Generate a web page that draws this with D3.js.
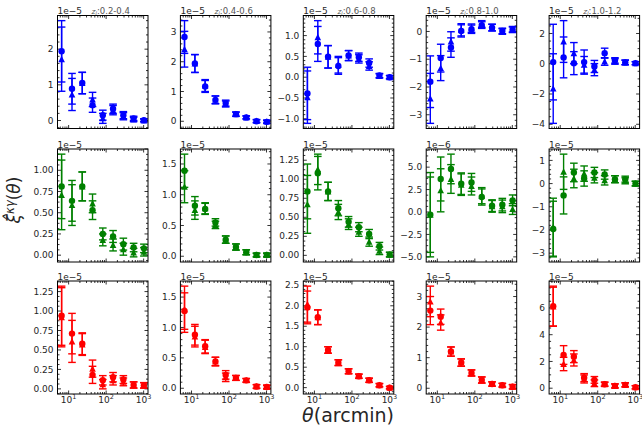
<!DOCTYPE html>
<html><head><meta charset="utf-8">
<script src="https://cdn.jsdelivr.net/npm/d3@7"></script>
<style>body{margin:0;background:#fff}svg{display:block;font-family:"DejaVu Sans",sans-serif}</style>
</head><body><svg id="c" width="642" height="431"></svg>
<script>
const theta = [6.5, 12.3, 23.1, 43.4, 81.5, 153, 288, 541, 1016];
const zBins = ["0.2-0.4", "0.4-0.6", "0.6-0.8", "0.8-1.0", "1.0-1.2"];
const rowColors = ["#0000ff", "#008000", "#ff0000"];
const exponents = [[-5,-5,-5,-5,-5],[-5,-5,-5,-6,-5],[-5,-5,-5,-5,-5]];

// Blue row (circle / triangle, values in units of 10^exponent)
const blueCirc = [[1.94,0.89,1.05,0.43,0.15,0.33,0.15,0.06,0.01],[2.83,1.94,1.17,0.72,0.61,0.24,0.13,0.00,-0.02],[-0.39,0.80,0.49,0.27,0.52,0.48,0.34,0.04,0.00],[-1.81,-0.96,-0.58,0.02,0.08,0.23,0.14,0.02,0.06],[0.11,0.42,0.04,0.11,-0.18,0.70,0.22,0.09,0.04]];
const blueCircErr = [[0.86,0.43,0.30,0.20,0.14,0.13,0.10,0.06,0.04],[0.55,0.30,0.20,0.13,0.10,0.07,0.05,0.05,0.05],[0.63,0.42,0.27,0.20,0.12,0.10,0.10,0.05,0.04],[0.93,0.50,0.35,0.22,0.15,0.12,0.12,0.10,0.10],[2.50,1.35,0.76,0.80,0.40,0.33,0.18,0.15,0.10]];
const blueTri = [[1.72,0.73,1.05,0.59,0.06,0.29,0.12,0.03,0.00],[2.42,1.94,1.20,0.72,0.58,0.24,0.13,0.01,-0.01],[-0.48,0.96,0.49,0.30,0.52,0.44,0.27,0.03,0.00],[-2.41,-1.32,-0.36,0.06,0.12,0.27,0.14,0.00,0.08],[-1.64,1.47,0.70,-0.07,-0.39,0.15,0.15,0.09,0.04]];
const blueTriErr = [[0.90,0.45,0.30,0.20,0.14,0.13,0.10,0.06,0.04],[0.60,0.30,0.20,0.13,0.10,0.07,0.05,0.05,0.05],[0.63,0.40,0.27,0.20,0.12,0.10,0.10,0.05,0.04],[0.90,0.45,0.35,0.22,0.15,0.12,0.12,0.10,0.10],[2.30,1.38,0.70,0.55,0.40,0.25,0.18,0.15,0.10]];

// Green row
const greenCirc = [[0.81,0.64,0.81,0.53,0.25,0.22,0.13,0.09,0.08],[1.39,0.82,0.77,0.55,0.27,0.15,0.065,0.02,0.02],[0.84,1.08,0.84,0.62,0.44,0.37,0.28,0.12,0.01],[-0.30,3.68,4.80,3.16,3.30,1.67,0.71,0.82,1.30],[-1.96,-0.51,0.48,0.22,0.48,0.39,0.19,0.19,0.00]];
const greenCircErr = [[0.38,0.24,0.17,0.11,0.07,0.07,0.07,0.05,0.05],[0.27,0.15,0.09,0.06,0.06,0.05,0.04,0.03,0.03],[0.36,0.22,0.12,0.10,0.07,0.06,0.06,0.05,0.03],[4.70,2.45,1.65,1.20,1.00,0.90,0.65,0.70,0.60],[1.20,0.80,0.40,0.33,0.22,0.20,0.15,0.13,0.10]];
const greenTri = [[0.71,0.59,0.81,0.61,0.18,0.12,0.07,0.03,0.04],[1.13,0.75,0.78,0.51,0.27,0.15,0.065,0.02,0.02],[0.67,1.13,0.84,0.57,0.41,0.31,0.18,0.06,0.01],[-0.30,2.42,3.68,3.05,2.90,1.82,0.63,0.63,0.33],[-1.88,0.51,0.22,0.43,0.25,0.14,0.19,0.12,0.00]];
const greenTriErr = [[0.41,0.24,0.17,0.11,0.07,0.07,0.07,0.05,0.05],[0.26,0.15,0.09,0.06,0.06,0.05,0.04,0.03,0.03],[0.38,0.20,0.12,0.10,0.07,0.06,0.06,0.05,0.03],[4.20,2.40,1.60,1.20,1.00,0.90,0.65,0.70,0.60],[1.25,0.76,0.40,0.33,0.22,0.20,0.15,0.13,0.10]];

// Red row
const redCirc = [[0.94,0.71,0.58,0.18,0.11,0.15,0.12,0.05,0.045],[1.27,0.88,0.69,0.44,0.22,0.17,0.13,0.03,0.02],[1.96,1.72,0.92,0.61,0.40,0.28,0.18,0.06,0.00],[2.54,2.34,1.20,0.84,0.50,0.27,0.14,0.10,0.05],[6.13,2.48,2.36,0.79,0.62,0.30,0.17,0.25,0.07]];
const redCircErr = [[0.38,0.26,0.14,0.11,0.06,0.06,0.05,0.04,0.035],[0.30,0.17,0.11,0.07,0.07,0.04,0.03,0.03,0.03],[0.40,0.18,0.08,0.07,0.06,0.05,0.05,0.04,0.03],[0.46,0.25,0.15,0.12,0.10,0.10,0.07,0.06,0.07],[1.50,0.70,0.45,0.30,0.25,0.15,0.15,0.15,0.12]];
const redTri = [[0.92,0.61,0.57,0.26,0.06,0.11,0.09,0.05,0.045],[1.30,0.85,0.68,0.44,0.18,0.17,0.13,0.03,0.02],[2.04,1.72,0.92,0.61,0.40,0.28,0.18,0.06,0.00],[2.84,2.15,1.20,0.84,0.50,0.27,0.14,0.10,0.05],[6.10,1.81,2.11,0.69,0.37,0.30,0.17,0.25,0.07]];
const redTriErr = [[0.38,0.27,0.14,0.11,0.06,0.06,0.05,0.04,0.035],[0.38,0.17,0.11,0.07,0.07,0.04,0.03,0.03,0.03],[0.44,0.18,0.08,0.07,0.06,0.05,0.05,0.04,0.03],[0.50,0.25,0.15,0.12,0.10,0.10,0.07,0.06,0.07],[1.45,0.50,0.45,0.30,0.25,0.15,0.15,0.15,0.12]];

const yTickLabels = [
  [["0","1","2"],["0","1","2","3"],["−1.0","−0.5","0.0","0.5","1.0"],["−3","−2","−1","0"],["−4","−2","0","2"]],
  [["0.00","0.25","0.50","0.75","1.00"],["0.0","0.5","1.0","1.5"],["0.00","0.25","0.50","0.75","1.00","1.25"],["−5.0","−2.5","0.0","2.5","5.0"],["−3","−2","−1","0","1"]],
  [["0.00","0.25","0.50","0.75","1.00","1.25"],["0.0","0.5","1.0","1.5"],["0.0","0.5","1.0","1.5","2.0","2.5"],["0","1","2","3"],["0","2","4","6"]]
];
const xTickExps = [1, 2, 3];

const rows = [
  {c: blueCirc, ce: blueCircErr, t: blueTri, te: blueTriErr},
  {c: greenCirc, ce: greenCircErr, t: greenTri, te: greenTriErr},
  {c: redCirc, ce: redCircErr, t: redTri, te: redTriErr}
];

const svg = d3.select("#c");
const colLeft = [57.5, 180.4, 303.3, 426.2, 549.1];
const rowTop = [15.5, 149, 281];
const W = 90.5, H = 113;

const lx0 = Math.log10(d3.min(theta)), lx1 = Math.log10(d3.max(theta));
const lm = (lx1 - lx0) * 0.05;
const xDomain = [Math.pow(10, lx0 - lm), Math.pow(10, lx1 + lm)];

const num = s => +s.replace("−", "-");

rows.forEach((R, ri) => {
  zBins.forEach((zb, ci) => {
    const g = svg.append("g").attr("transform", `translate(${colLeft[ci]},${rowTop[ri]})`);
    const color = rowColors[ri];
    const circ = R.c[ci], cerr = R.ce[ci], tri = R.t[ci], terr = R.te[ci];
    const lows = circ.map((v,i)=>v-cerr[i]).concat(tri.map((v,i)=>v-terr[i]));
    const highs = circ.map((v,i)=>v+cerr[i]).concat(tri.map((v,i)=>v+terr[i]));
    let y0 = d3.min(lows), y1 = d3.max(highs);
    const m = (y1 - y0) * 0.05;
    const x = d3.scaleLog().domain(xDomain).range([0, W]);
    const y = d3.scaleLinear().domain([y0 - m, y1 + m]).range([H, 0]);

    const tickG = g.append("g").attr("stroke", "#000").attr("stroke-width", 0.8);
    const xMaj = [], xMin = [];
    for (let e = 0; e <= 4; e++) for (let k = 1; k <= 9; k++) {
      const v = k * Math.pow(10, e);
      if (v >= xDomain[0] && v <= xDomain[1]) (k === 1 ? xMaj : xMin).push(v);
    }
    xMaj.forEach(v => {
      const px = x(v);
      tickG.append("line").attr("x1", px).attr("x2", px).attr("y1", H).attr("y2", H - 3.5);
      tickG.append("line").attr("x1", px).attr("x2", px).attr("y1", 0).attr("y2", 3.5);
    });
    xMin.forEach(v => {
      const px = x(v);
      tickG.append("line").attr("x1", px).attr("x2", px).attr("y1", H).attr("y2", H - 2);
      tickG.append("line").attr("x1", px).attr("x2", px).attr("y1", 0).attr("y2", 2);
    });
    const labs = yTickLabels[ri][ci];
    const yMaj = labs.map(num);
    const step = yMaj[1] - yMaj[0];
    const mant = step / Math.pow(10, Math.floor(Math.log10(step) + 1e-9));
    const ndiv = (Math.abs(mant - 1) < 1e-6 || Math.abs(mant - 5) < 1e-6) ? 5 : 4;
    const dom = y.domain();
    for (let v = Math.ceil(dom[0] / (step / ndiv)) * (step / ndiv); v <= dom[1]; v += step / ndiv) {
      const isMaj = Math.abs(Math.round(v / step) * step - v) < 1e-6;
      const len = isMaj ? 3.5 : 2;
      const py = y(v);
      tickG.append("line").attr("x1", 0).attr("x2", len).attr("y1", py).attr("y2", py);
      tickG.append("line").attr("x1", W).attr("x2", W - len).attr("y1", py).attr("y2", py);
    }
    labs.forEach((s, i) => {
      g.append("text").attr("x", -4).attr("y", y(yMaj[i])).attr("dy", "0.35em")
        .attr("text-anchor", "end").attr("font-size", 9).attr("fill", "#262626").text(s);
    });
    if (ri === 2) {
      xTickExps.forEach(e => {
        const t = g.append("text").attr("x", x(Math.pow(10, e))).attr("y", H + 8.5)
          .attr("text-anchor", "middle").attr("font-size", 9).attr("fill", "#262626");
        t.append("tspan").text("10");
        t.append("tspan").attr("dy", -3.5).attr("font-size", 6.5).text(String(e));
      });
    }
    g.append("text").attr("x", 0).attr("y", -1.5).attr("font-size", 9).attr("fill", "#262626")
      .text("1e" + "\u2212" + Math.abs(exponents[ri][ci]));
    if (ri === 0) {
      const tt = g.append("text").attr("x", W / 2 + 8).attr("y", -1.5).attr("text-anchor", "middle")
        .attr("font-size", 8.5).attr("fill", "#555");
      tt.append("tspan").attr("font-style", "italic").attr("font-size", 7.5).text("z");
      tt.append("tspan").attr("font-style", "italic").attr("font-size", 5).attr("dy", 1.3).text("l");
      tt.append("tspan").attr("dy", -1.3).text(":" + zb);
    }

    const series = [
      {v: circ, e: cerr, shape: "circle"},
      {v: tri, e: terr, shape: "tri"}
    ];
    const eg = g.append("g").attr("stroke", color).attr("stroke-width", 1.4).attr("fill", "none");
    series.forEach(s => {
      s.v.forEach((v, i) => {
        const px = x(theta[i]);
        const top = y(v + s.e[i]), bot = y(v - s.e[i]);
        eg.append("line").attr("x1", px).attr("x2", px).attr("y1", top).attr("y2", bot);
        eg.append("line").attr("x1", px - 3.8).attr("x2", px + 3.8).attr("y1", top).attr("y2", top);
        eg.append("line").attr("x1", px - 3.8).attr("x2", px + 3.8).attr("y1", bot).attr("y2", bot);
      });
    });
    const mg = g.append("g").attr("fill", color);
    series.forEach(s => {
      s.v.forEach((v, i) => {
        const px = x(theta[i]), py = y(v);
        if (s.shape === "circle") mg.append("circle").attr("cx", px).attr("cy", py).attr("r", 3.2);
        else mg.append("path").attr("d", `M${px},${py - 3.4}L${px + 3.3},${py + 3}L${px - 3.3},${py + 3}Z`);
      });
    });

    g.append("rect").attr("x", 0).attr("y", 0).attr("width", W).attr("height", H)
      .attr("fill", "none").attr("stroke", "#000").attr("stroke-width", 1);
  });
});

const yl = svg.append("text").attr("transform", "translate(20,200) rotate(-90)")
  .attr("text-anchor", "middle").attr("font-size", 17).attr("fill", "#262626");
yl.append("tspan").attr("font-style", "italic").text("ξ\u0302");
yl.append("tspan").attr("font-style", "italic").attr("font-size", 11.5).attr("dy", -6).text("κγ");
yl.append("tspan").attr("dy", 6).text("(");
yl.append("tspan").attr("font-style", "italic").text("θ");
yl.append("tspan").text(")");

const xl = svg.append("text").attr("x", 348).attr("y", 422).attr("text-anchor", "middle")
  .attr("font-size", 19).attr("fill", "#262626");
xl.append("tspan").attr("font-style", "italic").text("θ");
xl.append("tspan").text("(arcmin)");
</script></body></html>
